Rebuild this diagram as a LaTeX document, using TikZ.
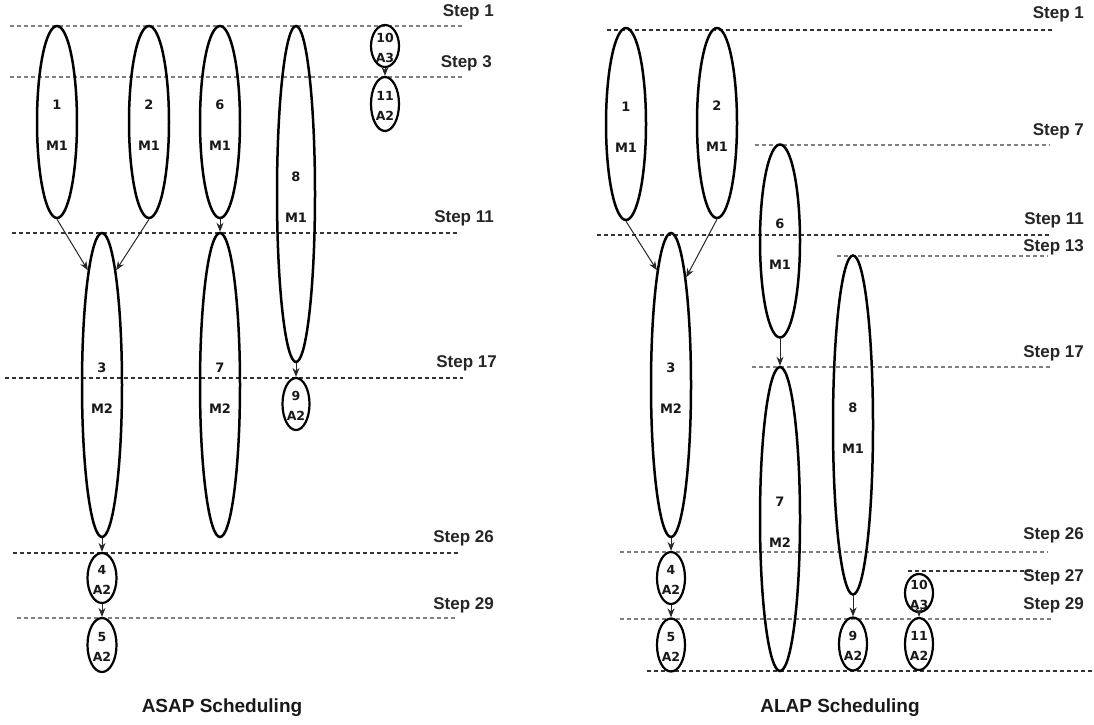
\documentclass[tikz,border=0pt]{standalone}
\usepackage{fontspec}
\usetikzlibrary{shapes.geometric,arrows.meta}
\newfontfamily\opfont{DejaVu Sans}
\newfontfamily\stepfont{Liberation Sans}

\tikzset{
  longop/.style={ellipse, draw=black, line width=2.5pt, minimum width=40pt, inner sep=0pt},
  shortop/.style={ellipse, draw=black, line width=2.2pt, minimum width=28pt, inner sep=0pt},
  bigtxt/.style={font=\opfont\bfseries\fontsize{13}{41}\selectfont, text=black!90, align=center, inner sep=0pt, yshift=-3pt},
  smalltxt/.style={font=\opfont\bfseries\fontsize{12.5}{20}\selectfont, text=black!90, align=center, inner sep=0pt, yshift=-2pt},
  big/.style={label={[bigtxt]center:{#1}}},
  small/.style={label={[smalltxt]center:{#1}}},
  dep/.style={-{Stealth[length=9pt,width=7pt]}, line width=1pt, draw=black!85},
  guide/.style={line width=1.4pt, dash pattern=on 4pt off 3pt, draw=black!50},
  guidedark/.style={guide, draw=black!80},
  steplbl/.style={font=\stepfont\bfseries\fontsize{17}{20}\selectfont, text=black!85, inner sep=0pt, anchor=east},
  title/.style={font=\stepfont\bfseries\fontsize{19}{22}\selectfont, text=black!90, inner sep=0pt}
}

\begin{document}
\begin{tikzpicture}[x=1pt, y=-1pt]
\fill[white] (0,0) rectangle (1094,724);
\useasboundingbox (0,0) rectangle (1094,724);

% ---------------- ASAP schedule ----------------
% control-step guides
\draw[guide]     (10,26)  -- (463,26);
\draw[guide]     (10,77)  -- (463,77);
\draw[guidedark] (12,233) -- (460,233);
\draw[guidedark] (5,378)  -- (463,378);
\draw[guidedark] (13,553) -- (458,553);
\draw[guide]     (17,618) -- (455,618);

\node[steplbl] (as1)  at (494,12)  {Step 1};
\node[steplbl] (as3)  at (492,63)  {Step 3};
\node[steplbl] (as11) at (494,218) {Step 11};
\node[steplbl] (as17) at (497,363) {Step 17};
\node[steplbl] (as26) at (494,538) {Step 26};
\node[steplbl] (as29) at (494,605) {Step 29};

% operations
\node[longop, minimum height=192pt, big={1\\M1}] (a1) at (57,122) {};
\node[longop, minimum height=192pt, big={2\\M1}] (a2) at (149,122) {};
\node[longop, minimum height=192pt, big={6\\M1}] (a6) at (220,122) {};
\node[longop, minimum width=38pt, minimum height=336pt, big={8\\M1}] (a8) at (296,194) {};
\node[shortop, minimum height=42pt, small={10\\A3}] (a10) at (385,46) {};
\node[shortop, minimum height=54pt, small={11\\A2}] (a11) at (385,104) {};
\node[longop, minimum height=304pt, big={3\\M2}] (a3) at (102,385) {};
\node[longop, minimum height=304pt, big={7\\M2}] (a7) at (220,385) {};
\node[shortop, minimum width=27pt, minimum height=52pt, small={9\\A2}] (a9) at (296,404) {};
\node[shortop, minimum width=29pt, minimum height=50pt, small={4\\A2}] (a4) at (102,578) {};
\node[shortop, minimum width=29pt, minimum height=54pt, small={5\\A2}] (a5) at (102,645) {};

% data dependencies
\draw[dep] (a1.south) -- (a3.97);
\draw[dep] (a2.south) -- (a3.83);
\draw[dep] (a6) -- (a7);
\draw[dep] (a8) -- (a9);
\draw[dep] (a10) -- (a11);
\draw[dep] (a3) -- (a4);
\draw[dep] (a4) -- (a5);

\node[title] (asap) at (222,708) {ASAP Scheduling};

% ---------------- ALAP schedule ----------------
\draw[guidedark] (607,30)  -- (1052,30);
\draw[guide]     (755,145) -- (1050,145);
\draw[guidedark] (597,235) -- (1050,235);
\draw[guide]     (837,256) -- (1048,256);
\draw[guide]     (752,367) -- (1052,367);
\draw[guide]     (620,552) -- (1048,552);
\draw[guidedark] (908,571) -- (1030,571);
\draw[guide]     (620,619) -- (1052,619);
\draw[guidedark] (647,671) -- (1094,671);

\node[steplbl] (bs1)  at (1084,14)  {Step 1};
\node[steplbl] (bs7)  at (1084,131) {Step 7};
\node[steplbl] (bs11) at (1084,220) {Step 11};
\node[steplbl] (bs13) at (1084,247) {Step 13};
\node[steplbl] (bs17) at (1084,353) {Step 17};
\node[steplbl] (bs26) at (1084,535) {Step 26};
\node[steplbl] (bs27) at (1084,577) {Step 27};
\node[steplbl] (bs29) at (1084,605) {Step 29};

\node[longop, minimum height=192pt, big={1\\M1}] (b1) at (626,124) {};
\node[longop, minimum height=190pt, big={2\\M1}] (b2) at (717,123) {};
\node[longop, minimum height=193pt, big={6\\M1}] (b6) at (780,241) {};
\node[longop, minimum height=304pt, big={7\\M2}] (b7) at (780,519) {};
\node[longop, minimum height=304pt, big={3\\M2}] (b3) at (671,385) {};
\node[shortop, minimum height=52pt, small={4\\A2}] (b4) at (671,578) {};
\node[shortop, minimum height=53pt, small={5\\A2}] (b5) at (671,645) {};
\node[longop, minimum height=339pt, big={8\\M1}] (b8) at (853,425) {};
\node[shortop, minimum height=53pt, small={9\\A2}] (b9) at (853,644) {};
\node[shortop, minimum height=38pt, small={10\\A3}] (b10) at (919,593) {};
\node[shortop, minimum height=52pt, small={11\\A2}] (b11) at (919,644) {};

\draw[dep] (b1.south) -- (b3.97);
\draw[dep] (b2.south) -- (b3.82);
\draw[dep] (b6) -- (b7);
\draw[dep] (b8) -- (b9);
\draw[dep] (b10) -- (b11);
\draw[dep] (b3) -- (b4);
\draw[dep] (b4) -- (b5);

\node[title] (alap) at (840,708) {ALAP Scheduling};
\end{tikzpicture}
\end{document}
